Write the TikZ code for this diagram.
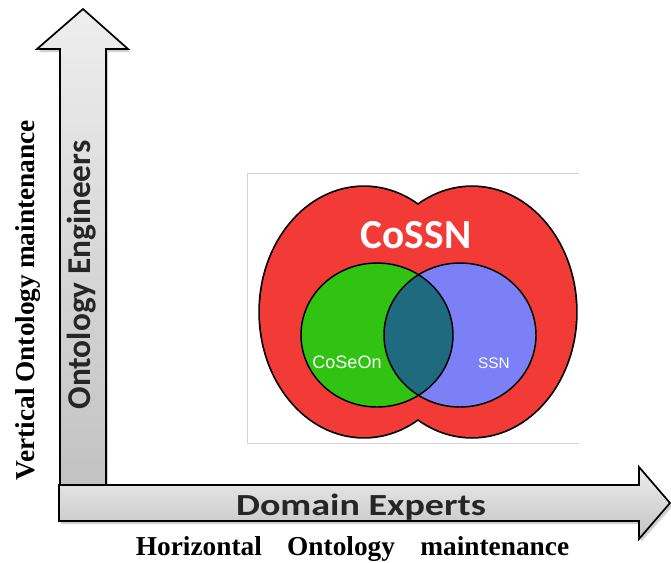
\documentclass[tikz,border=0pt]{standalone}
\usepackage{fontspec}
\setmainfont{Liberation Serif}
\newfontfamily\calibrifont{Carlito}
\newfontfamily\arialfont{Liberation Sans}
\usetikzlibrary{shapes.geometric}
\definecolor{arrowlight}{HTML}{EEEEEE}
\definecolor{arrowdark}{HTML}{C2C2C2}
\definecolor{cossnred}{HTML}{F23A36}
\definecolor{coseongreen}{HTML}{30C312}
\definecolor{ssnblue}{HTML}{7B80F6}
\definecolor{overlapteal}{HTML}{1F6A7E}
\definecolor{boxgray}{HTML}{D4D4D4}
\tikzset{
  bigarrow/.style={draw=black, line width=1.3pt, line join=miter, top color=arrowlight, bottom color=arrowdark},
  arrowshadow/.style={fill=black, opacity=0.18, draw=none},
  axislabel/.style={inner sep=0pt, font=\bfseries\fontsize{20.5pt}{22pt}\selectfont},
  arrowlabel/.style={inner sep=0pt, text=black!85, font=\calibrifont\bfseries},
  setlabel/.style={inner sep=0pt, text=white, font=\arialfont},
  setline/.style={draw=black, line width=1.1pt}
}
\begin{document}
\begin{tikzpicture}[x=0.75pt,y=-0.75pt]
\useasboundingbox (0,0) rectangle (671,562);

% ---------- vertical arrow ----------
\fill[arrowshadow] (62,490) -- (62,52) -- (39,52) -- (85,12) -- (130,52) -- (108,52) -- (108,490) -- cycle;
\path[bigarrow] (60,487) -- (60,49) -- (37,49) -- (83,9) -- (128,49) -- (106,49) -- (106,487) -- cycle;

% ---------- horizontal arrow ----------
\fill[arrowshadow] (61,488) -- (641,488) -- (641,470) -- (673,506) -- (641,542) -- (641,524) -- (61,524) -- cycle;
\path[bigarrow] (59,485) -- (639,485) -- (639,467) -- (670,503) -- (639,539) -- (639,521) -- (59,521) -- cycle;

% ---------- arrow labels ----------
\node[arrowlabel, rotate=90, anchor=base, font=\calibrifont\bfseries\fontsize{25pt}{27pt}\selectfont] (oe) at (90,275) {Ontology Engineers};
\node[arrowlabel, anchor=base, font=\calibrifont\bfseries\fontsize{23pt}{25pt}\selectfont] (de) at (361,515) {\scalebox{1.24}[1]{Domain Experts}};

% ---------- axis labels ----------
\node[axislabel, rotate=90, anchor=base] (vom) at (34,300) {\makebox[270pt][s]{Vertical Ontology maintenance}};
\node[axislabel, anchor=base] (hom) at (352.5,555) {\makebox[325pt][s]{Horizontal Ontology maintenance}};

% ---------- Venn picture ----------
\draw[boxgray, line width=0.6pt] (579,173) -- (247,173) -- (247,443) -- (579,443);
% red union outline
\draw[black, line width=2.6pt] (364,312) ellipse [x radius=104, y radius=125];
\draw[black, line width=2.6pt] (472,312) ellipse [x radius=104, y radius=125];
\fill[cossnred] (364,312) ellipse [x radius=104, y radius=125];
\fill[cossnred] (472,312) ellipse [x radius=104, y radius=125];
% inner sets
\fill[coseongreen] (377,335) ellipse [x radius=76, y radius=72];
\fill[ssnblue] (460,335) ellipse [x radius=76, y radius=72];
\begin{scope}
  \clip (377,335) ellipse [x radius=76, y radius=72];
  \fill[overlapteal] (460,335) ellipse [x radius=76, y radius=72];
\end{scope}
\draw[setline] (377,335) ellipse [x radius=76, y radius=72];
\draw[setline] (460,335) ellipse [x radius=76, y radius=72];

\node[inner sep=0pt, anchor=base, text=white, font=\calibrifont\bfseries\fontsize{31pt}{33pt}\selectfont] (cossn) at (416,248) {CoSSN};
\node[setlabel, anchor=base, font=\arialfont\fontsize{13.5pt}{15pt}\selectfont] (coseon) at (347,368) {CoSeOn};
\node[setlabel, anchor=base, font=\arialfont\fontsize{11.5pt}{13pt}\selectfont] (ssn) at (494,368) {SSN};
\end{tikzpicture}
\end{document}
